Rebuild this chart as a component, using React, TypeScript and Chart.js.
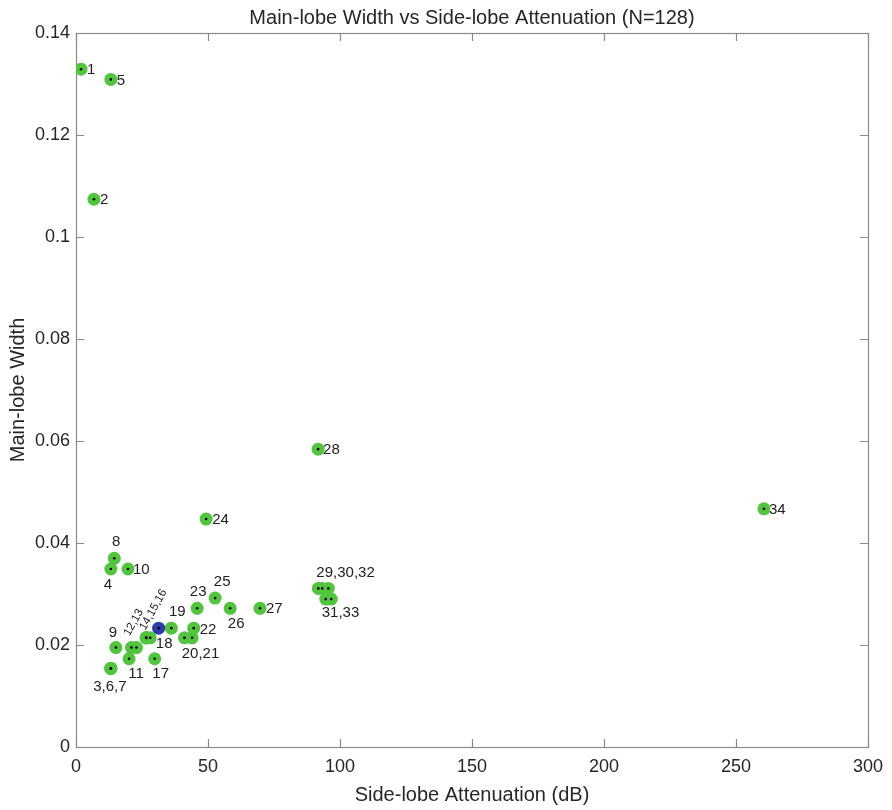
import React, { useEffect, useRef } from "react";
import { Chart, registerables } from "chart.js";

Chart.register(...registerables);

// Window number for each point (some windows share one marker)
const windowNumbers = [
  1, 2, 3, 4, 5, 6, 7, 8, 9, 10, 11, 12, 13, 14, 15, 16, 17, 18, 19, 20, 21, 22,
  23, 24, 25, 26, 27, 28, 29, 30, 31, 32, 33, 34,
];

// Side-lobe attenuation in dB
const sideLobeAttenuation = [
  1.9, 6.8, 13.2, 13.2, 13.2, 13.2, 13.2, 14.5, 15.1, 19.7, 20.1, 21.0, 22.9,
  26.6, 26.6, 26.6, 29.8, 28.1, 36.1, 41.1, 44.0, 44.6, 45.9, 49.3, 52.7, 58.4,
  69.7, 91.7, 91.8, 93.3, 94.6, 95.6, 96.7, 260.6,
];

// Main-lobe width (normalised frequency)
const mainLobeWidth = [
  0.1329, 0.1074, 0.0154, 0.0349, 0.1309, 0.0154, 0.0154, 0.037, 0.0195,
  0.0349, 0.0173, 0.0195, 0.0195, 0.0214, 0.0214, 0.0214, 0.0173, 0.0214,
  0.0233, 0.0214, 0.0214, 0.0233, 0.0272, 0.0447, 0.0292, 0.0272, 0.0272,
  0.0584, 0.0311, 0.0311, 0.029, 0.0311, 0.029, 0.0467,
];

// The selected design window
const chosenAttenuation = [31.3];
const chosenWidth = [0.0233];

// Point annotations and the window each one hangs off
const labelTexts = [
  "1", "2", "3,6,7", "4", "5", "8", "9", "10", "11", "12,13", "14,15,16", "17",
  "18", "19", "20,21", "22", "23", "24", "25", "26", "27", "28", "29,30,32",
  "31,33", "34",
];
const labelAnchors = [
  1, 2, 3, 4, 5, 8, 9, 10, 11, 12, 14, 17, 18, 19, 20, 22, 23, 24, 25, 26, 27,
  28, 29, 31, 34,
];

// Axis ticks
const xTicks = [0, 50, 100, 150, 200, 250, 300];
const yTicks = [0, 0.02, 0.04, 0.06, 0.08, 0.1, 0.12, 0.14];

// Annotation placement relative to the anchor marker (px)
type Place = {
  dx: number;
  dy: number;
  align: CanvasTextAlign;
  rot?: number;
  size?: number;
};
const labelPlacement: Record<string, Place> = {
  "1": { dx: 6, dy: 1, align: "left" },
  "2": { dx: 6, dy: 1, align: "left" },
  "3,6,7": { dx: -1, dy: 18, align: "center" },
  "4": { dx: -3, dy: 16, align: "center" },
  "5": { dx: 6, dy: 1, align: "left" },
  "8": { dx: 2, dy: -16, align: "center" },
  "9": { dx: -3, dy: -15, align: "center" },
  "10": { dx: 5, dy: 1, align: "left" },
  "11": { dx: 7, dy: 15, align: "center" },
  "12,13": { dx: -2, dy: -11, align: "left", rot: -61, size: 11.5 },
  "14,15,16": { dx: -1, dy: -7, align: "left", rot: -61, size: 11.5 },
  "17": { dx: 6, dy: 15, align: "center" },
  "18": { dx: 14, dy: 6, align: "center" },
  "19": { dx: 6, dy: -16, align: "center" },
  "20,21": { dx: 16, dy: 16, align: "center" },
  "22": { dx: 6, dy: 2, align: "left" },
  "23": { dx: 1, dy: -16, align: "center" },
  "24": { dx: 6, dy: 1, align: "left" },
  "25": { dx: 7, dy: -16, align: "center" },
  "26": { dx: 6, dy: 16, align: "center" },
  "27": { dx: 6, dy: 1, align: "left" },
  "28": { dx: 5, dy: 1, align: "left" },
  "29,30,32": { dx: -2, dy: -16, align: "left" },
  "31,33": { dx: -4, dy: 14, align: "left" },
  "34": { dx: 5, dy: 1, align: "left" },
};

const FONT = "'Liberation Sans', Arial, Helvetica, sans-serif";
const INK = "#262626";
const FRAME = "#8a8a8a";
const GREEN = "#52c43e";
const BLUE = "#2d3ca6";

const frameAndTicks = {
  id: "frameAndTicks",
  beforeDatasetsDraw(chart: any) {
    const { ctx, chartArea: a, scales } = chart;
    const len = 8;
    ctx.save();
    ctx.strokeStyle = FRAME;
    ctx.lineWidth = 1.2;
    ctx.beginPath();
    xTicks.forEach((v) => {
      const x = Math.round(scales.x.getPixelForValue(v)) + 0.5;
      ctx.moveTo(x, a.bottom);
      ctx.lineTo(x, a.bottom - len);
      ctx.moveTo(x, a.top);
      ctx.lineTo(x, a.top + len);
    });
    yTicks.forEach((v) => {
      const y = Math.round(scales.y.getPixelForValue(v)) + 0.5;
      ctx.moveTo(a.left, y);
      ctx.lineTo(a.left + len, y);
      ctx.moveTo(a.right, y);
      ctx.lineTo(a.right - len, y);
    });
    ctx.stroke();
    ctx.strokeRect(
      Math.round(a.left) + 0.5,
      Math.round(a.top) + 0.5,
      Math.round(a.right - a.left),
      Math.round(a.bottom - a.top)
    );
    ctx.restore();
  },
  afterDraw(chart: any) {
    const { ctx, chartArea: a, scales } = chart;
    ctx.save();
    // chart title
    ctx.fillStyle = INK;
    ctx.font = `20px ${FONT}`;
    ctx.textAlign = "center";
    ctx.textBaseline = "alphabetic";
    ctx.fillText(
      "Main-lobe Width vs Side-lobe Attenuation (N=128)",
      (a.left + a.right) / 2,
      24
    );
    // point annotations
    ctx.fillStyle = "#222";
    labelTexts.forEach((text, i) => {
      const idx = windowNumbers.indexOf(labelAnchors[i]);
      const px = scales.x.getPixelForValue(sideLobeAttenuation[idx]);
      const py = scales.y.getPixelForValue(mainLobeWidth[idx]);
      const p = labelPlacement[text];
      ctx.save();
      ctx.font = `${p.size ?? 15}px ${FONT}`;
      ctx.translate(px + p.dx, py + p.dy);
      ctx.textAlign = p.align;
      if (p.rot) {
        ctx.rotate((p.rot * Math.PI) / 180);
        ctx.textBaseline = "alphabetic";
      } else {
        ctx.textBaseline = "middle";
      }
      ctx.fillText(text, 0, 0);
      ctx.restore();
    });
    ctx.restore();
  },
};

export default function App() {
  const ref = useRef<HTMLCanvasElement | null>(null);

  useEffect(() => {
    document.body.style.margin = "0";
    const canvas = ref.current;
    if (!canvas) return;

    const windows = sideLobeAttenuation.map((x, i) => ({ x, y: mainLobeWidth[i] }));
    const chosen = chosenAttenuation.map((x, i) => ({ x, y: chosenWidth[i] }));

    const chart = new Chart(canvas, {
      type: "scatter",
      data: {
        datasets: [
          {
            label: "centres",
            data: [...windows, ...chosen],
            pointRadius: 1.3,
            pointBackgroundColor: "#000",
            pointBorderWidth: 0,
            order: 0,
          },
          {
            label: "chosen",
            data: chosen,
            pointRadius: 6.5,
            pointBackgroundColor: BLUE,
            pointBorderWidth: 0,
            order: 1,
          },
          {
            label: "windows",
            data: windows,
            pointRadius: 6.5,
            pointBackgroundColor: GREEN,
            pointBorderWidth: 0,
            order: 2,
          },
        ],
      },
      options: {
        animation: false,
        responsive: false,
        devicePixelRatio: 1,
        layout: { padding: { top: 33, right: 21, left: 0, bottom: 0 } },
        plugins: {
          legend: { display: false },
          tooltip: { enabled: false },
          title: { display: false },
        },
        scales: {
          x: {
            type: "linear",
            min: 0,
            max: 300,
            afterBuildTicks: (s: any) => {
              s.ticks = xTicks.map((value) => ({ value }));
            },
            ticks: {
              font: { family: FONT, size: 18 },
              color: INK,
              padding: 9,
              maxRotation: 0,
            },
            grid: { display: false, drawTicks: false },
            border: { display: false },
            title: {
              display: true,
              text: "Side-lobe Attenuation (dB)",
              font: { family: FONT, size: 20 },
              color: INK,
              padding: { top: 0, bottom: 3 },
            },
            afterFit: (s: any) => {
              s.height = 63;
            },
          },
          y: {
            type: "linear",
            min: 0,
            max: 0.14,
            afterBuildTicks: (s: any) => {
              s.ticks = yTicks.map((value) => ({ value }));
            },
            ticks: {
              font: { family: FONT, size: 18 },
              color: INK,
              padding: 6,
              callback: (v: any) => String(+Number(v).toFixed(2)),
            },
            grid: { display: false, drawTicks: false },
            border: { display: false },
            title: {
              display: true,
              text: "Main-lobe Width",
              font: { family: FONT, size: 20 },
              color: INK,
              padding: { top: 6, bottom: 0 },
            },
            afterFit: (s: any) => {
              s.width = 76;
            },
          },
        },
      },
      plugins: [frameAndTicks],
    });

    return () => chart.destroy();
  }, []);

  return (
    <div style={{ width: 892, height: 810, background: "#fff" }}>
      <canvas ref={ref} width={892} height={810} style={{ display: "block" }} />
    </div>
  );
}
